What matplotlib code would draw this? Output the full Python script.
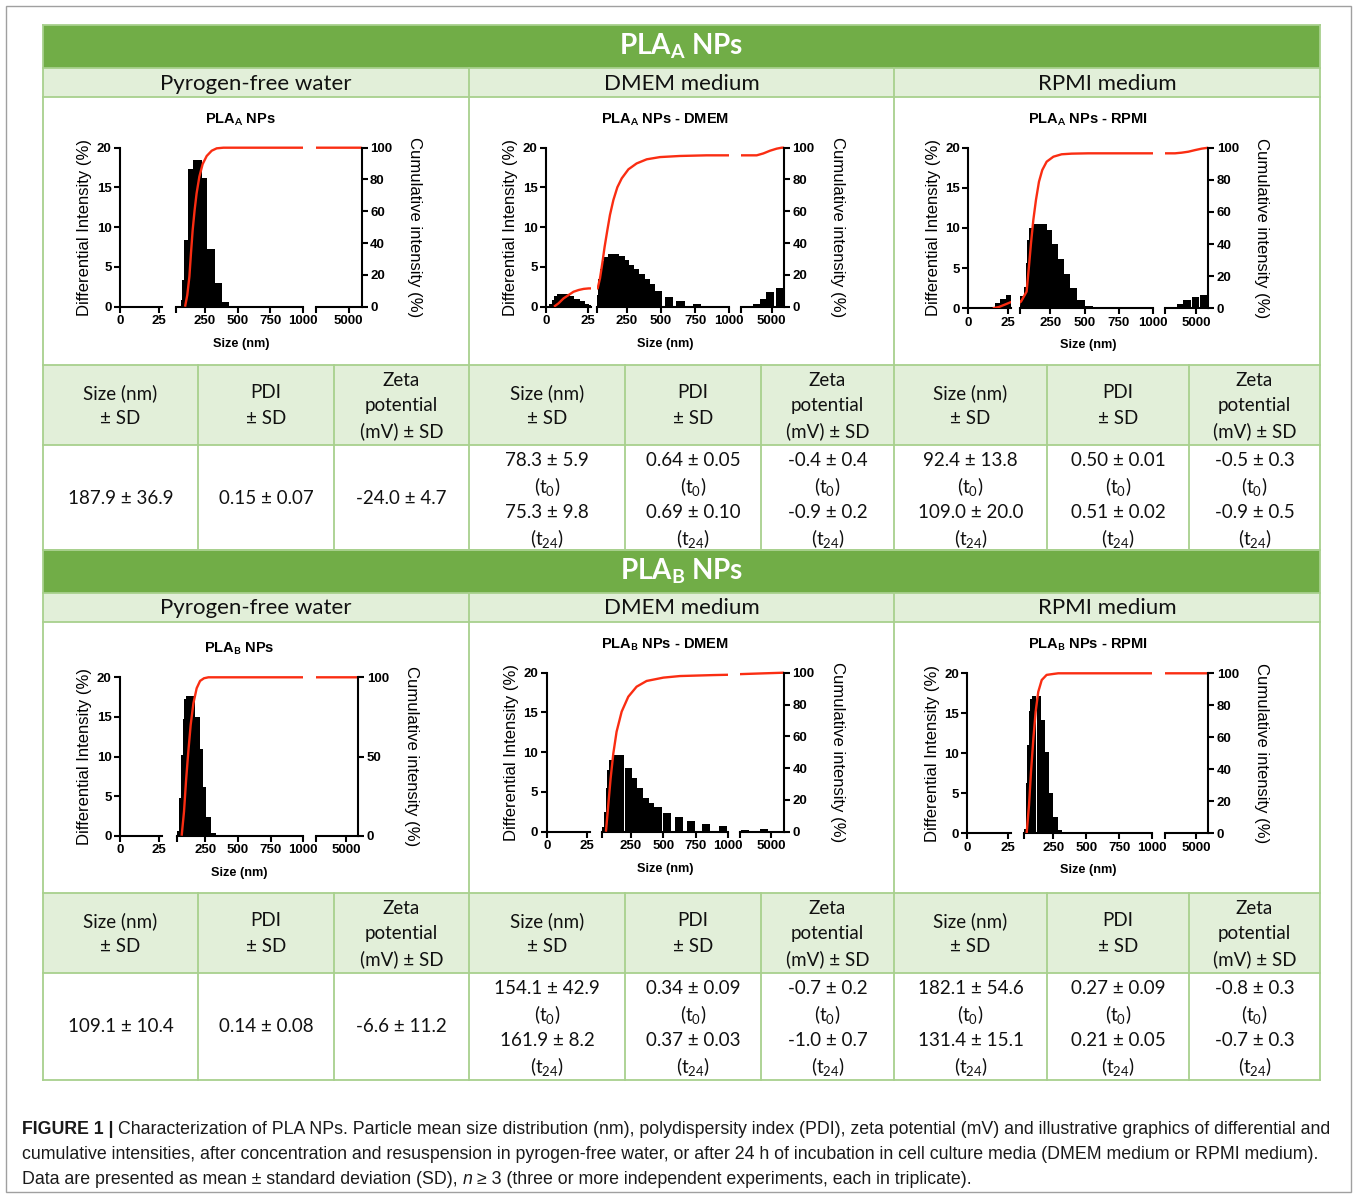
import numpy as np
import matplotlib
matplotlib.use('Agg')
import matplotlib.pyplot as plt
from matplotlib import font_manager
from matplotlib.patches import Rectangle

# ---------------- data ----------------
SEG_RANGES = [(0, 27), (30, 1000), (2500, 6000)]
SEG_TICKS = [[0, 25], [30, 250, 500, 750, 1000], [2500, 5000]]
SEG_LABELS = [['0', '25'], ['', '250', '500', '750', '1000'], ['', '5000']]
Y_TICKS = [0, 5, 10, 15, 20]
CUM_TICKS = [0, 20, 40, 60, 80, 100]
CUM_TICKS_B_WATER = [0, 50, 100]

chart_titles = [r'PLA$_{\mathbf{A}}$ NPs', r'PLA$_{\mathbf{A}}$ NPs - DMEM', r'PLA$_{\mathbf{A}}$ NPs - RPMI',
                r'PLA$_{\mathbf{B}}$ NPs', r'PLA$_{\mathbf{B}}$ NPs - DMEM', r'PLA$_{\mathbf{B}}$ NPs - RPMI']

a_water_size = [73, 86, 104, 139, 175, 208, 243, 294, 352, 403]
a_water_int = [0.8, 3.4, 8.4, 17.3, 18.4, 18.4, 16.2, 7.2, 3.0, 0.6]
a_water_cum_size = [99, 116, 132, 144, 157, 172, 187, 208, 233, 264, 302, 340, 391, 6000]
a_water_cum = [0, 7.3, 18.9, 33.5, 48.2, 60.8, 71.3, 81.8, 89.7, 94.8, 98.1, 99.6, 100, 100]

a_dmem_size = [2.8, 4.4, 6.0, 8.1, 10.5, 12.9, 15.5, 18.5, 21.6, 24.2, 26.6,
               35, 47, 64, 81, 101, 132, 171, 213, 249, 286, 322, 361, 398, 437, 476, 559, 644, 764,
               3792, 4331, 4869, 5623]
a_dmem_int = [0.3, 0.9, 1.4, 1.6, 1.6, 1.6, 1.3, 1.0, 0.7, 0.4, 0.2,
              1.5, 3.5, 4.8, 5.7, 6.3, 6.6, 6.6, 6.4, 5.9, 5.3, 4.7, 4.1, 3.5, 2.8, 2.0, 1.25, 0.7, 0.35,
              0.3, 1.0, 1.8, 2.4]
a_dmem_cum_size = [4.8, 7.5, 10.5, 13.5, 16.5, 19.6, 22.6, 25.6, 27.6, 37, 54, 71, 88, 108, 127, 152, 181,
                   213, 262, 322, 396, 493, 639, 834, 1000, 3792, 4331, 4869, 5408, 5811, 6000]
a_dmem_cum = [0, 2.1, 5.2, 7.3, 9.4, 10.5, 11.2, 11.5, 11.5, 11.5, 17.8, 27.3, 37.7, 48.2, 57.7, 67.1, 75.1,
              80.7, 86.4, 90.1, 92.7, 94.1, 94.8, 95.2, 95.2, 95.2, 96.4, 98.1, 99.4, 100, 100]

a_rpmi_size = [15.9, 18.7, 21.9, 25.6, 45, 66, 78, 93, 115, 151, 200, 241, 282, 323, 370, 418, 471, 532,
               3254, 3711, 4277, 4950, 5650]
a_rpmi_int = [0.2, 0.7, 1.2, 1.6, 1.5, 2.7, 5.6, 8.5, 10.0, 10.5, 10.5, 9.8, 8.0, 6.2, 4.3, 2.5, 1.0, 0.3,
              0.2, 0.5, 1.0, 1.4, 1.6]
a_rpmi_cum_size = [15.5, 19.3, 23.6, 27.5, 37, 78, 95, 110, 127, 146, 168, 192, 224, 273, 333, 406, 527, 1000,
                   3308, 3846, 4384, 4923, 5461, 6000]
a_rpmi_cum = [0, 0.8, 2.5, 4.1, 4.1, 10.4, 25.9, 40.5, 55.0, 67.4, 78.8, 86.1, 91.3, 94.4, 95.9, 96.3, 96.5, 96.5,
              96.5, 96.9, 97.5, 98.5, 99.4, 100]

b_water_size = [43, 58, 71, 84, 96, 117, 153, 188, 219, 242, 273, 311]
b_water_int = [0.6, 4.8, 10.2, 14.7, 17.3, 17.7, 17.7, 15.0, 10.9, 6.2, 2.4, 0.4]
b_water_cum_size = [68, 86, 101, 119, 137, 158, 183, 209, 239, 273, 311, 6000]
b_water_cum = [0, 15.2, 34.1, 53.1, 69.9, 83.6, 93.1, 97.7, 99.4, 100, 100, 100]

b_dmem_size = [38, 51, 63, 79, 97, 128, 171, 230, 274, 320, 364, 405, 461, 530, 620, 715, 825, 956, 2898, 4408]
b_dmem_int = [0.6, 2.5, 5.5, 7.8, 9.0, 9.7, 9.7, 8.0, 6.7, 5.5, 4.3, 3.6, 3.1, 2.3, 1.8, 1.3, 1.0, 0.75, 0.2, 0.35]
b_dmem_cum_size = [58, 76, 94, 115, 140, 179, 230, 294, 371, 500, 628, 884, 1000, 4400, 6000]
b_dmem_cum = [0, 16.8, 33.5, 49.3, 62.9, 75.5, 84.9, 91.2, 94.8, 96.9, 97.9, 98.5, 98.7, 99.6, 100]

b_rpmi_size = [38, 48, 60, 73, 88, 108, 143, 174, 204, 234, 267, 300]
b_rpmi_int = [0.5, 6.3, 11.0, 15.3, 16.8, 17.2, 17.2, 14.2, 10.2, 5.0, 2.0, 0.4]
b_rpmi_cum_size = [50, 68, 83, 101, 118, 138, 164, 201, 252, 289, 6000]
b_rpmi_cum = [0, 17.7, 38.5, 59.4, 76.0, 88.5, 95.8, 99.0, 99.6, 100, 100]

block_titles = [r'PLA$_{\mathbf{A}}$ NPs', r'PLA$_{\mathbf{B}}$ NPs']
media = ['Pyrogen-free water', 'DMEM medium', 'RPMI medium']
col_headers = [['Size (nm)', '± SD'], ['PDI', '± SD'], ['Zeta', 'potential', '(mV) ± SD']]

a_water_vals = ['187.9 ± 36.9', '0.15 ± 0.07', '-24.0 ± 4.7']
a_dmem_vals = [['78.3 ± 5.9', '75.3 ± 9.8'], ['0.64 ± 0.05', '0.69 ± 0.10'], ['-0.4 ± 0.4', '-0.9 ± 0.2']]
a_rpmi_vals = [['92.4 ± 13.8', '109.0 ± 20.0'], ['0.50 ± 0.01', '0.51 ± 0.02'], ['-0.5 ± 0.3', '-0.9 ± 0.5']]
b_water_vals = ['109.1 ± 10.4', '0.14 ± 0.08', '-6.6 ± 11.2']
b_dmem_vals = [['154.1 ± 42.9', '161.9 ± 8.2'], ['0.34 ± 0.09', '0.37 ± 0.03'], ['-0.7 ± 0.2', '-1.0 ± 0.7']]
b_rpmi_vals = [['182.1 ± 54.6', '131.4 ± 15.1'], ['0.27 ± 0.09', '0.21 ± 0.05'], ['-0.8 ± 0.3', '-0.7 ± 0.3']]
time_labels = [r'(t$_{0}$)', r'(t$_{24}$)']

caption = [
    [('FIGURE 1 |', 'bold', 'normal'),
     ('Characterization of PLA NPs. Particle mean size distribution (nm), polydispersity index (PDI), '
      'zeta potential (mV) and illustrative graphics of differential and', 'normal', 'normal')],
    [('cumulative intensities, after concentration and resuspension in pyrogen-free water, or after 24 h '
      'of incubation in cell culture media (DMEM medium or RPMI medium).', 'normal', 'normal')],
    [('Data are presented as mean ± standard deviation (SD),', 'normal', 'normal'),
     ('n', 'normal', 'italic'),
     ('≥ 3 (three or more independent experiments, each in triplicate).', 'normal', 'normal')],
]

# ---------------- style / layout ----------------
plt.rcParams['font.family'] = 'Liberation Sans'
plt.rcParams['mathtext.fontset'] = 'custom'
plt.rcParams['mathtext.rm'] = 'Lato'
plt.rcParams['mathtext.it'] = 'Lato:italic'
plt.rcParams['mathtext.bf'] = 'Lato:bold'

W, H = 1358, 1197
RED = '#fa2d12'
DARK = '#71ad47'
LIGHT = '#e2efd9'
EDGE = '#a8d08d'
LW = 1.5
TICK_FS = 9.5
WMAX = [3.5, 62, 600]

fig = plt.figure(figsize=(W / 100, H / 100), dpi=100)


def fx(x):
    return x / W


def fy(y):
    return 1 - y / H


LAYOUTS = [
    ([(120, 161.7), (176, 303.3), (316, 361.7)], 306.7, 147.7),
    ([(546, 591), (596.7, 729.3), (740.7, 784)], 306.7, 147.7),
    ([(968.3, 1011), (1020, 1153.3), (1165, 1208.3)], 308.3, 147.7),
    ([(120, 162.3), (176.7, 303.3), (316, 358.3)], 835.7, 677.3),
    ([(546.7, 590), (602.3, 728.3), (740, 784)], 831.7, 672.7),
    ([(967.3, 1011), (1024, 1152.3), (1165, 1208.3)], 833.3, 673.3),
]


def draw_chart(lay, title, size, inten, cum_size, cum, cum_ticks):
    segs, y0, ytop = lay
    size = np.asarray(size, float)
    inten = np.asarray(inten, float)
    hpx = (y0 - ytop) * 20.5 / 20
    for k, ((xa, xb), (lo, hi)) in enumerate(zip(segs, SEG_RANGES)):
        ax = fig.add_axes([fx(xa), fy(y0), (xb - xa) / W, hpx / H])
        ax.set_facecolor('none')
        m = (size >= lo) & (size <= hi)
        xs, hs = size[m], inten[m]
        if len(xs) > 1:
            wd = np.minimum(np.gradient(xs) * 1.1, WMAX[k])
        else:
            wd = WMAX[k]
        if len(xs):
            ax.bar(xs, hs, width=wd, color='black', linewidth=0)
        ax.set_xlim(lo, hi)
        ax.set_ylim(0, 20.5)

        axc = ax.twinx()
        axc.plot(cum_size, cum, color=RED, lw=1.7, solid_capstyle='butt')
        axc.set_ylim(0, 102.5)
        ax.set_xlim(lo, hi)

        # left (differential) axis, set after twinx so its ticks stay as wanted
        ax.set_xticks(SEG_TICKS[k], SEG_LABELS[k], fontsize=TICK_FS, fontweight='bold')
        ax.spines['top'].set_visible(False)
        ax.spines['right'].set_visible(False)
        ax.spines['bottom'].set_linewidth(LW)
        ax.tick_params(direction='out', length=4, width=LW, pad=2)
        if k == 0:
            ax.spines['left'].set_linewidth(LW)
            ax.spines['left'].set_bounds(0, 20)
            ax.set_yticks(Y_TICKS, [str(v) for v in Y_TICKS], fontsize=TICK_FS, fontweight='bold')
        else:
            ax.spines['left'].set_visible(False)
            ax.tick_params(axis='y', left=False, labelleft=False, right=False, labelright=False)

        for s in ('top', 'left', 'bottom'):
            axc.spines[s].set_visible(False)
        if k == 2:
            axc.spines['right'].set_linewidth(LW)
            axc.spines['right'].set_bounds(0, 100)
            axc.set_yticks(cum_ticks, [str(v) for v in cum_ticks], fontsize=TICK_FS, fontweight='bold')
            axc.tick_params(direction='out', length=4, width=LW, pad=2, left=False, labelleft=False)
        else:
            axc.spines['right'].set_visible(False)
            axc.tick_params(axis='y', right=False, labelright=False, left=False, labelleft=False)

    cx = (segs[0][0] + segs[2][1]) / 2
    cy = (y0 + ytop) / 2
    fig.text(fx(cx), fy(ytop - 28), title, ha='center', va='center', fontsize=10.5, fontweight='bold')
    fig.text(fx(cx), fy(y0 + 37), 'Size (nm)', ha='center', va='center', fontsize=9.2, fontweight='bold')
    fig.text(fx(segs[0][0] - 35), fy(cy), 'Differential Intensity (%)', rotation=90,
             ha='center', va='center', fontsize=12)
    fig.text(fx(segs[2][1] + 53), fy(cy), 'Cumulative intensity (%)', rotation=270,
             ha='center', va='center', fontsize=12)


# ---------------- table ----------------
grp_x = [43, 469, 894, 1320]
sub_x = [[43, 198, 334, 469], [469, 625, 761, 894], [894, 1047, 1189, 1320]]
blocks = [[25, 68, 97, 365, 445, 550], [550, 593, 622, 893, 973, 1080]]


def rect(x0, y0, x1, y1, color):
    fig.add_artist(Rectangle((fx(x0), fy(y1)), (x1 - x0) / W, (y1 - y0) / H, transform=fig.transFigure,
                             facecolor=color, edgecolor='none', zorder=0.5))


def seg_line(xs, ys, color=EDGE, lw=1.3):
    fig.add_artist(plt.Line2D([fx(v) for v in xs], [fy(v) for v in ys], transform=fig.transFigure,
                              color=color, lw=lw, zorder=0.6))


def ttext(x, y, s, **kw):
    kw.setdefault('family', 'Lato')
    kw.setdefault('fontsize', 13.5)
    fig.text(fx(x), fy(y), s, ha='center', va='center', color=kw.pop('color', '#111111'), **kw)


vals_by_block = [[a_water_vals, a_dmem_vals, a_rpmi_vals], [b_water_vals, b_dmem_vals, b_rpmi_vals]]

for b, r in enumerate(blocks):
    rect(43, r[0], 1320, r[1], DARK)
    rect(43, r[1], 1320, r[2], LIGHT)
    rect(43, r[3], 1320, r[4], LIGHT)
    for yy in r:
        seg_line([43, 1320], [yy, yy])
    seg_line([43, 43], [r[0], r[5]])
    seg_line([1320, 1320], [r[0], r[5]])
    for xx in grp_x[1:3]:
        seg_line([xx, xx], [r[1], r[5]])
    for g in range(3):
        for xx in sub_x[g][1:3]:
            seg_line([xx, xx], [r[3], r[5]])

    ttext(681.5, (r[0] + r[1]) / 2, block_titles[b], color='white', fontweight='bold', fontsize=20)
    for g in range(3):
        ttext((grp_x[g] + grp_x[g + 1]) / 2, (r[1] + r[2]) / 2 + 1, media[g], fontsize=16)
        for c in range(3):
            cx = (sub_x[g][c] + sub_x[g][c + 1]) / 2
            lines = col_headers[c]
            offs = [28, 53] if len(lines) == 2 else [15, 40, 66]
            for ln, o in zip(lines, offs):
                ttext(cx, r[3] + o, ln)
            v = vals_by_block[b][g][c]
            if g == 0:
                ttext(cx, r[4] + 53, v)
            else:
                four = [v[0], time_labels[0], v[1], time_labels[1]]
                for ln, o in zip(four, [15, 41, 67, 93]):
                    ttext(cx, r[4] + o, ln)

# ---------------- charts ----------------
series = [
    (a_water_size, a_water_int, a_water_cum_size, a_water_cum, CUM_TICKS),
    (a_dmem_size, a_dmem_int, a_dmem_cum_size, a_dmem_cum, CUM_TICKS),
    (a_rpmi_size, a_rpmi_int, a_rpmi_cum_size, a_rpmi_cum, CUM_TICKS),
    (b_water_size, b_water_int, b_water_cum_size, b_water_cum, CUM_TICKS_B_WATER),
    (b_dmem_size, b_dmem_int, b_dmem_cum_size, b_dmem_cum, CUM_TICKS),
    (b_rpmi_size, b_rpmi_int, b_rpmi_cum_size, b_rpmi_cum, CUM_TICKS),
]
for lay, title, s in zip(LAYOUTS, chart_titles, series):
    draw_chart(lay, title, *s)

# ---------------- frame + caption ----------------
fig.add_artist(Rectangle((fx(6), fy(1192)), (1351 - 6) / W, (1192 - 6) / H, transform=fig.transFigure,
                         facecolor='none', edgecolor='#a0a0a0', lw=1.0, zorder=0.4))

names = {f.name for f in font_manager.fontManager.ttflist}
cap_family = 'Liberation Sans Narrow' if 'Liberation Sans Narrow' in names else 'Liberation Sans'
renderer = fig.canvas.get_renderer()


def text_w(s, size, weight='normal', style='normal'):
    t = fig.text(0, 0, s, fontsize=size, family=cap_family, fontweight=weight, fontstyle=style)
    w = t.get_window_extent(renderer).width
    t.remove()
    return w


def line_w(pieces, size):
    sp = text_w('a a', size) - text_w('aa', size)
    return sum(text_w(p, size, wt, st) for p, wt, st in pieces) + sp * (len(pieces) - 1), sp


w1, _ = line_w(caption[0], 12)
cap_size = 12 * 1316 / w1
for pieces, base in zip(caption, [1134, 1159, 1184]):
    _, sp = line_w(pieces, cap_size)
    x = 22
    for p, wt, st in pieces:
        fig.text(fx(x), fy(base), p, fontsize=cap_size, family=cap_family, fontweight=wt, fontstyle=st,
                 ha='left', va='baseline', color='#1a1a1a')
        x += text_w(p, cap_size, wt, st) + sp

fig.savefig('out.png', dpi=100, facecolor='white')
